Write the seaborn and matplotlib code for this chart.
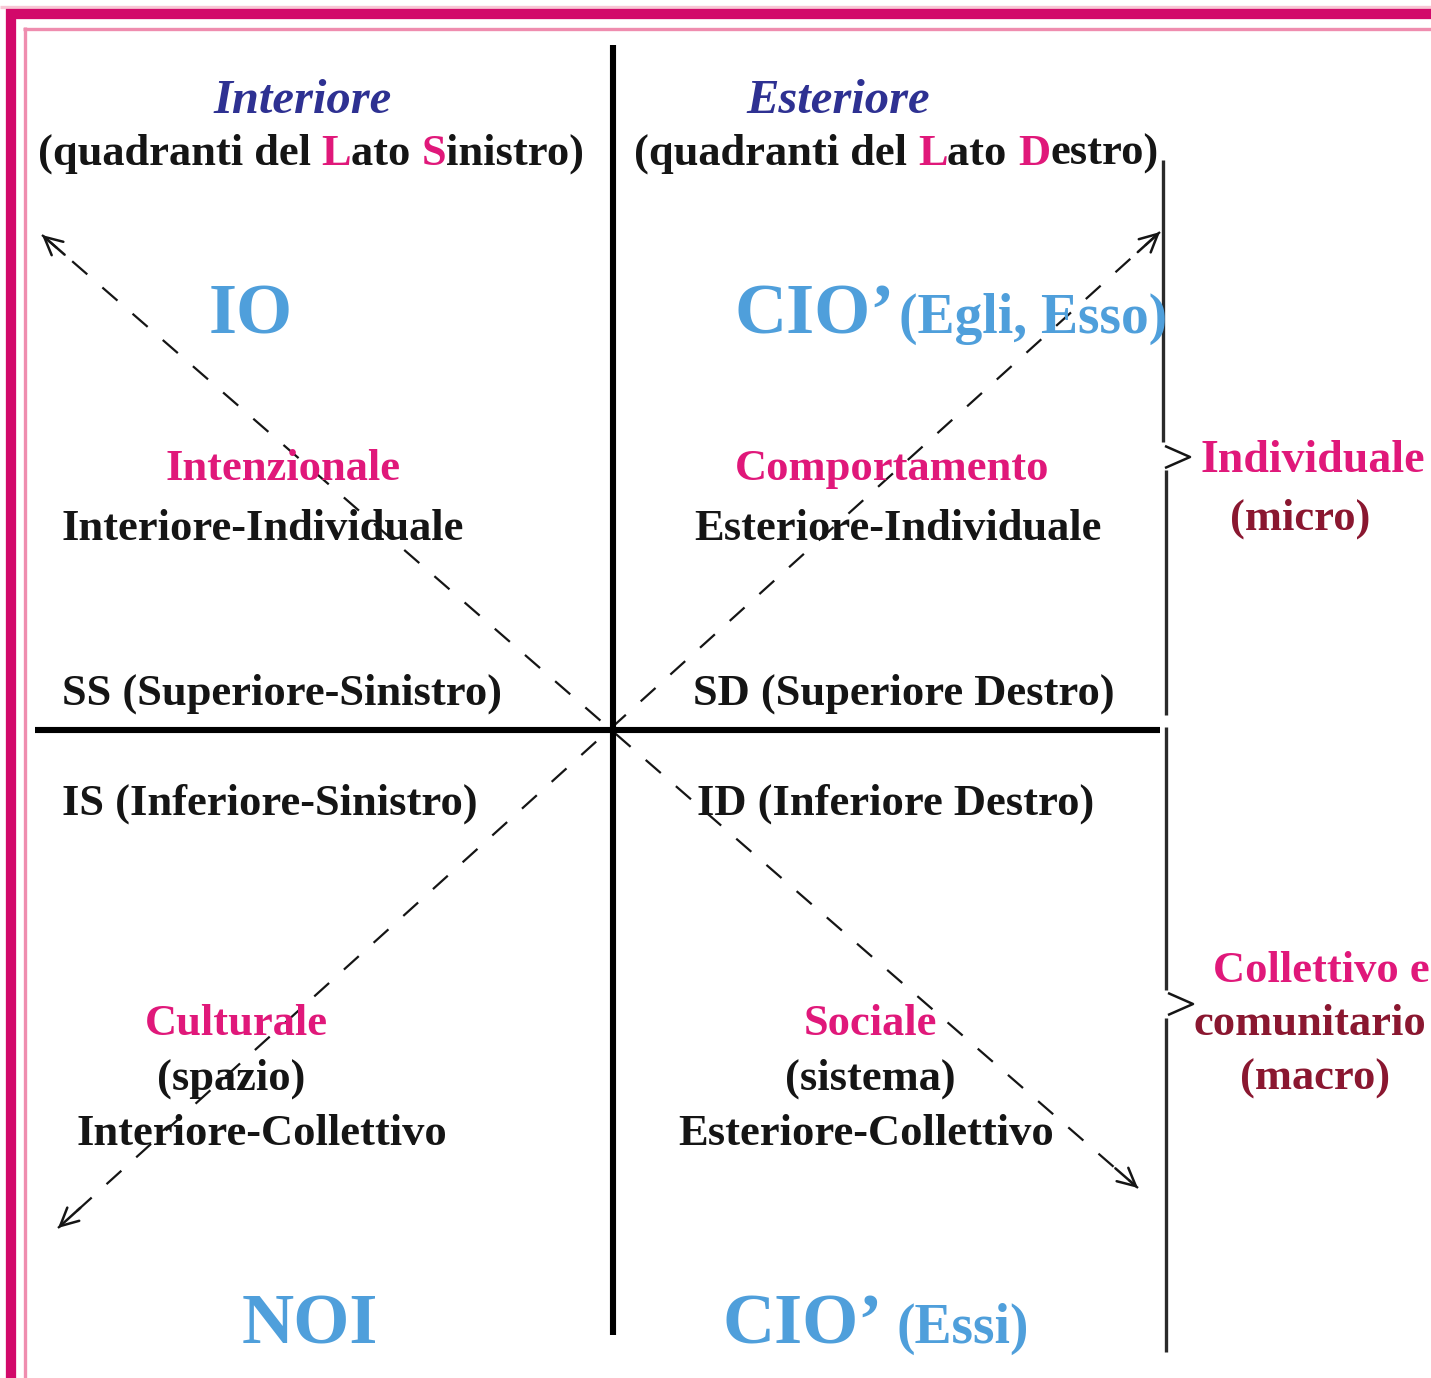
"""
Quadranti di Wilber (Interiore / Esteriore, Individuale / Collettivo).

Diagram redrawn with seaborn + matplotlib in pixel coordinates.
"""

import matplotlib
matplotlib.use("Agg")
import matplotlib.pyplot as plt
import seaborn as sns

# Canvas
W, H = 1431, 1378

# Colours
MAGENTA = "#E0187A"
FRAME = "#D2096A"
PINK = "#EF8DAF"
LIGHT_PINK = "#F8C6D5"
SKY = "#4F9FDB"
NAVY = "#2E3192"
DARK_RED = "#8A1730"
INK = "#151515"

# Main cross
cross_v_x = [613, 613]
cross_v_y = [45, 1335]
cross_h_x = [35, 1160]
cross_h_y = [730, 730]

# Dashed diagonals (tail -> head, both ends carry an arrow)
diag1_x = [42, 1138]
diag1_y = [235, 1188]
diag2_x = [1160, 58]
diag2_y = [232, 1228]

# Right-hand brackets
bracket_x = [[1163, 1163], [1166, 1166], [1166, 1166], [1166, 1166]]
bracket_y = [[160, 442], [470, 715], [727, 990], [1018, 1352]]
chevron_x = [[1165, 1190, 1165], [1168, 1193, 1168]]
chevron_y = [[446, 457, 468], [993, 1004, 1015]]

# Frame lines
frame_x = [[6, W], [11, 11]]
frame_y = [[14, 14], [9, H]]
inner_x = [[23, W], [24.5, 24.5]]
inner_y = [[28.5, 28.5], [27, H]]
top_band_x = [0, W]
top_band_y = [6.5, 6.5]

# Labels: text, x, y (baseline), colour, size, ha, style
labels = [
    ("Interiore", 303, 113, NAVY, 35, "center", "italic"),
    ("Esteriore", 838, 113, NAVY, 35, "center", "italic"),
    ("IO", 251, 333, SKY, 52, "center", "normal"),
    ("NOI", 310, 1343, SKY, 52, "center", "normal"),
    ("Intenzionale", 283, 480, MAGENTA, 32, "center", "normal"),
    ("Interiore-Individuale", 263, 540, INK, 32, "center", "normal"),
    ("Comportamento", 892, 480, MAGENTA, 32, "center", "normal"),
    ("Esteriore-Individuale", 898, 540, INK, 32, "center", "normal"),
    ("SS (Superiore-Sinistro)", 62, 705, INK, 32, "left", "normal"),
    ("SD (Superiore Destro)", 693, 705, INK, 32, "left", "normal"),
    ("IS (Inferiore-Sinistro)", 62, 815, INK, 32, "left", "normal"),
    ("ID (Inferiore Destro)", 697, 815, INK, 32, "left", "normal"),
    ("Culturale", 236, 1035, MAGENTA, 32, "center", "normal"),
    ("(spazio)", 231, 1090, INK, 32, "center", "normal"),
    ("Interiore-Collettivo", 262, 1145, INK, 32, "center", "normal"),
    ("Sociale", 870, 1035, MAGENTA, 32, "center", "normal"),
    ("(sistema)", 870, 1090, INK, 32, "center", "normal"),
    ("Esteriore-Collettivo", 866, 1145, INK, 32, "center", "normal"),
    ("Individuale", 1200, 472, MAGENTA, 33, "left", "normal"),
    ("(micro)", 1300, 530, DARK_RED, 32, "center", "normal"),
    ("Collettivo e", 1213, 982, MAGENTA, 32, "left", "normal"),
    ("comunitario", 1310, 1035, DARK_RED, 32, "center", "normal"),
    ("(macro)", 1315, 1090, DARK_RED, 32, "center", "normal"),
]

# Headings with single coloured initials (indices of magenta letters)
headings = [
    ("(quadranti del Lato Sinistro)", 311, 165, [15, 20]),
    ("(quadranti del Lato Destro)", 896, 165, [15, 20]),
]

# Big "CIO'" labels followed by a smaller parenthesis
cio_labels = [
    ("CIO\u2019", "(Egli, Esso)", 735, 333, 0),
    ("CIO\u2019", "(Essi)", 722, 1343, 10),
]

SERIF = {"family": "Liberation Serif", "weight": "bold"}


def seg(ax, xs, ys, color, lw, ls="-"):
    """Draw one polyline through seaborn."""
    sns.lineplot(x=xs, y=ys, ax=ax, color=color, linewidth=lw, linestyle=ls,
                 estimator=None, sort=False, legend=False,
                 solid_capstyle="butt", dash_capstyle="butt")


def arrow_head(ax, x0, y0, x1, y1):
    """Open arrow head at (x1, y1), pointing away from (x0, y0)."""
    dx, dy = x1 - x0, y1 - y0
    n = (dx ** 2 + dy ** 2) ** 0.5
    sx, sy = x1 - dx / n * 30, y1 - dy / n * 30
    ax.annotate("", xy=(x1, y1), xytext=(sx, sy),
                arrowprops=dict(arrowstyle="->", color=INK, lw=1.8,
                                mutation_scale=32, shrinkA=0, shrinkB=0))


def text_width(ax, renderer, s, size):
    t = ax.text(0, 0, s, fontsize=size, **SERIF)
    w = t.get_window_extent(renderer).width
    t.remove()
    return w


def coloured_heading(ax, renderer, s, x, y, idx, size=32):
    """Heading drawn as runs, selected letters in magenta."""
    full = text_width(ax, renderer, s, size)
    left = x - full / 2
    cuts = sorted(set([0, len(s)] + idx + [i + 1 for i in idx]))
    for a, b in zip(cuts[:-1], cuts[1:]):
        run = s[a:b]
        if a == 0:
            xa = left
        else:
            xa = (left + text_width(ax, renderer, s[:a + 1], size)
                  - text_width(ax, renderer, s[a], size))
        color = MAGENTA if a in idx else INK
        ax.text(xa, y, run, ha="left", va="baseline", color=color,
                fontsize=size, **SERIF)


def main():
    sns.set_theme(style="white")
    plt.rcParams["font.family"] = ["Liberation Serif", "DejaVu Serif"]

    fig = plt.figure(figsize=(W / 100, H / 100), dpi=100)
    fig.patch.set_facecolor("white")
    ax = fig.add_axes([0, 0, 1, 1])
    ax.set_xlim(0, W)
    ax.set_ylim(H, 0)
    ax.axis("off")

    # Frame
    seg(ax, top_band_x, top_band_y, LIGHT_PINK, 2.4)
    for xs, ys in zip(frame_x, frame_y):
        seg(ax, xs, ys, FRAME, 7.4)
    for xs, ys in zip(inner_x, inner_y):
        seg(ax, xs, ys, PINK, 2.4)

    # Dashed diagonals with arrows at both ends
    for xs, ys in ((diag1_x, diag1_y), (diag2_x, diag2_y)):
        seg(ax, xs, ys, INK, 1.6, ls=(0, (9, 9)))
        arrow_head(ax, xs[1], ys[1], xs[0], ys[0])
        arrow_head(ax, xs[0], ys[0], xs[1], ys[1])

    # Cross
    seg(ax, cross_v_x, cross_v_y, "black", 4.4)
    seg(ax, cross_h_x, cross_h_y, "black", 4.4)

    # Brackets
    for xs, ys in zip(bracket_x, bracket_y):
        seg(ax, xs, ys, "#2a2a2a", 2.4)
    for xs, ys in zip(chevron_x, chevron_y):
        seg(ax, xs, ys, INK, 1.8)

    fig.canvas.draw()
    renderer = fig.canvas.get_renderer()

    for s, x, y, c, size, ha, style in labels:
        ax.text(x, y, s, ha=ha, va="baseline", color=c, fontsize=size,
                style=style, **SERIF)

    for s, x, y, idx in headings:
        coloured_heading(ax, renderer, s, x, y, idx)

    for big, small, x, y, gap in cio_labels:
        t = ax.text(x, y, big, ha="left", va="baseline", color=SKY,
                    fontsize=52, **SERIF)
        right = t.get_window_extent(renderer).x1
        ax.text(right + 4 + gap, y, small, ha="left", va="baseline",
                color=SKY, fontsize=40, **SERIF)

    fig.savefig("out.png", dpi=100, facecolor="white")
    plt.close(fig)


if __name__ == "__main__":
    main()
